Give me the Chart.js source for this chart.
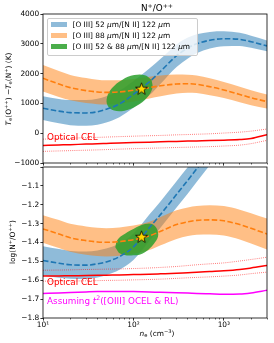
<!DOCTYPE html>
<html>
<head>
<meta charset="utf-8">
<title>N+/O++</title>
<script src="https://cdn.jsdelivr.net/npm/chart.js@4.4.1/dist/chart.umd.min.js"></script>
<style>
body { margin: 0; background: #fff; }
#fig { position: relative; width: 274px; height: 343px; overflow: hidden; font-family: "DejaVu Sans", sans-serif; color: #000; }
#fig canvas { position: absolute; left: 0; }
.txt { position: absolute; white-space: nowrap; line-height: 1; }
.txt sup, #legend sup { font-size: 70%; vertical-align: baseline; position: relative; top: -0.5em; }
.txt sub { font-size: 70%; vertical-align: baseline; position: relative; top: 0.25em; }
.mid { transform: translate(-50%, -50%); }
.rot { transform: translate(-50%, -50%) rotate(-90deg); }
#legend { position: absolute; left: 46.5px; top: 17.5px; width: 149px; height: 36px; border: 0.8px solid #ccc; border-radius: 2px; background: rgba(255,255,255,0.8); font-size: 7.4px; }
#legend .patch { position: absolute; left: 3px; width: 16.5px; height: 5px; }
#legend .name { position: absolute; left: 25px; white-space: nowrap; line-height: 1; }
</style>
</head>
<body>
<div id="fig">
  <canvas id="top" width="274" height="170" style="top:0px"></canvas>
  <canvas id="bot" width="274" height="183" style="top:160px"></canvas>

  <div class="txt mid" style="left:157px; top:8px; font-size:8.8px">N<sup>+</sup>/O<sup>++</sup></div>
  <div class="txt rot" style="left:9px; top:89px; font-size:7.4px"><i>T</i><sub>e</sub>(O<sup>++</sup>) &minus;<i>T</i><sub>e</sub>(N<sup>+</sup>) (K)</div>
  <div class="txt rot" style="left:12.5px; top:242px; font-size:7.4px">log(N<sup>+</sup>/O<sup>++</sup>)</div>
  <div class="txt mid" style="left:157px; top:334px; font-size:7.4px"><i>n</i><sub>e</sub> (cm<sup>&minus;3</sup>)</div>

  <div id="legend">
    <div class="patch" style="top:3.3px; background:rgba(31,119,180,0.5)"></div>
    <div class="name" style="top:2.1px">[O III] 52 <i>&mu;</i>m/[N II] 122 <i>&mu;</i>m</div>
    <div class="patch" style="top:14.6px; background:rgba(255,127,14,0.5)"></div>
    <div class="name" style="top:13.4px">[O III] 88 <i>&mu;</i>m/[N II] 122 <i>&mu;</i>m</div>
    <div class="patch" style="top:25.9px; background:rgba(44,160,44,0.85)"></div>
    <div class="name" style="top:24.7px">[O III] 52 &amp; 88 <i>&mu;</i>m/[N II] 122 <i>&mu;</i>m</div>
  </div>
</div>

<script>
// electron density grid (cm^-3)
var nGrid = [10, 15, 20, 30, 40, 50, 70, 100, 150, 200, 300, 400, 500, 700, 1000, 1500, 2000, 3000];

// top panel: Te(O++) - Te(N+) in K
var dT52Up  = [1240, 1150, 1110, 1110, 1155, 1240, 1425, 1750, 2170, 2500, 2980, 3210, 3320, 3400, 3420, 3370, 3270, 3110];
var dT52Mid = [840, 740, 690, 680, 720, 800, 980, 1300, 1720, 2080, 2600, 2860, 3000, 3120, 3170, 3150, 3070, 2930];
var dT52Lo  = [440, 330, 270, 250, 285, 360, 535, 850, 1270, 1660, 2220, 2510, 2680, 2840, 2920, 2930, 2870, 2750];

var dT88Up  = [2290, 2085, 1955, 1850, 1795, 1775, 1780, 1820, 1895, 1940, 1970, 1965, 1935, 1845, 1720, 1560, 1440, 1295];
var dT88Mid = [1845, 1650, 1530, 1430, 1385, 1370, 1385, 1440, 1530, 1590, 1650, 1660, 1640, 1560, 1450, 1300, 1190, 1060];
var dT88Lo  = [1400, 1215, 1105, 1010, 975, 965, 990, 1060, 1165, 1240, 1330, 1355, 1345, 1275, 1180, 1040, 940, 825];

var dTOpt   = [-410, -395, -385, -365, -355, -345, -330, -315, -300, -290, -275, -265, -258, -248, -235, -215, -180, -50];
var dTOptUp = [-200, -180, -170, -150, -140, -130, -115, -100, -85, -75, -55, -45, -35, -20, 5, 35, 70, 140];
var dTOptLo = [-610, -595, -585, -570, -560, -550, -535, -520, -505, -495, -480, -470, -462, -450, -430, -400, -350, -240];

// combined 52 & 88 contour (top)
var greenTopN = [159, 162, 141, 109, 80, 61, 52, 51, 58, 75, 102, 134];
var greenTopV = [1789, 1512, 1192, 918, 757, 759, 918, 1194, 1514, 1789, 1950, 1948];

// bottom panel: log(N+/O++)
var ab52Up  = [-1.42, -1.435, -1.445, -1.448, -1.442, -1.432, -1.405, -1.353, -1.252, -1.181, -1.075, -1.0, -0.94, -0.85, -0.76];
var ab52Mid = [-1.495, -1.51, -1.518, -1.52, -1.513, -1.503, -1.475, -1.423, -1.322, -1.251, -1.145, -1.07, -1.01, -0.92, -0.83];
var ab52Lo  = [-1.575, -1.587, -1.592, -1.593, -1.585, -1.574, -1.545, -1.493, -1.392, -1.321, -1.215, -1.14, -1.08, -0.99, -0.9];

var ab88Up  = [-1.255, -1.281, -1.301, -1.315, -1.322, -1.324, -1.32, -1.31, -1.29, -1.265, -1.229, -1.214, -1.207, -1.203, -1.207, -1.226, -1.245, -1.273];
var ab88Mid = [-1.328, -1.355, -1.375, -1.39, -1.397, -1.399, -1.395, -1.385, -1.365, -1.34, -1.305, -1.29, -1.283, -1.28, -1.285, -1.305, -1.325, -1.355];
var ab88Lo  = [-1.401, -1.429, -1.449, -1.465, -1.472, -1.474, -1.47, -1.46, -1.44, -1.415, -1.381, -1.366, -1.359, -1.357, -1.363, -1.384, -1.405, -1.437];

var abOpt   = [-1.578, -1.577, -1.576, -1.575, -1.574, -1.573, -1.572, -1.57, -1.568, -1.566, -1.563, -1.56, -1.558, -1.554, -1.55, -1.543, -1.535, -1.522];
var abOptUp = [-1.547, -1.546, -1.545, -1.543, -1.542, -1.541, -1.54, -1.538, -1.535, -1.532, -1.527, -1.522, -1.518, -1.513, -1.508, -1.498, -1.49, -1.478];
var abOptLo = [-1.605, -1.604, -1.604, -1.603, -1.602, -1.601, -1.6, -1.598, -1.596, -1.594, -1.59, -1.587, -1.585, -1.582, -1.578, -1.572, -1.565, -1.557];
var abT2    = [-1.670, -1.667, -1.665, -1.662, -1.660, -1.659, -1.659, -1.660, -1.662, -1.664, -1.666, -1.668, -1.670, -1.672, -1.674, -1.673, -1.667, -1.653];

var greenBotN = [63, 72, 100, 134, 179, 187, 165, 134, 100, 75, 66];
var greenBotV = [-1.425, -1.46, -1.468, -1.451, -1.389, -1.346, -1.305, -1.302, -1.328, -1.363, -1.389];

// best solution (star)
var starN = [123];
var starTopV = [1477];
var starBotV = [-1.372];

var xMajorTicks = [10, 100, 1000];
var xTickLabels = ['10\u00b9', '10\u00b2', '10\u00b3'];

Chart.defaults.font.family = '"DejaVu Sans", sans-serif';
Chart.defaults.color = '#000';

function pts(xs, ys) {
	return ys.map(function (y, i) { return { x: xs[i], y: y }; });
}
function loop(xs, ys) {
	var p = pts(xs, ys);
	p.push(p[0]);
	return p;
}

function band(ys, color, order) {
	return { data: pts(nGrid, ys), fill: '+1', backgroundColor: color, borderWidth: 0,
		pointRadius: 0, order: order, cubicInterpolationMode: 'monotone' };
}
function edge(ys, order) {
	return { data: pts(nGrid, ys), fill: false, borderWidth: 0, pointRadius: 0,
		order: order, cubicInterpolationMode: 'monotone' };
}
function curve(ys, color, width, dash, order) {
	return { data: pts(nGrid, ys), fill: false, borderColor: color, borderWidth: width,
		borderDash: dash, pointRadius: 0, order: order, cubicInterpolationMode: 'monotone' };
}
function blob(xs, ys) {
	return { data: loop(xs, ys), fill: 'shape', backgroundColor: 'rgba(44,160,44,0.85)',
		borderWidth: 0, pointRadius: 0, tension: 0.4, order: 8 };
}

function starImage(r) {
	var c = document.createElement('canvas');
	var s = Math.ceil(r * 2 + 2);
	c.width = s; c.height = s;
	var g = c.getContext('2d');
	g.beginPath();
	for (var k = 0; k < 10; k++) {
		var rr = k % 2 ? r * 0.42 : r;
		var a = -Math.PI / 2 + k * Math.PI / 5;
		g.lineTo(s / 2 + rr * Math.cos(a), s / 2 + rr * Math.sin(a));
	}
	g.closePath();
	g.fillStyle = '#ffd700';
	g.fill();
	g.lineWidth = 0.8;
	g.strokeStyle = '#000';
	g.stroke();
	return c;
}
var starImg = starImage(6.3);

function star(ys) {
	return { data: pts(starN, ys), showLine: false, pointStyle: starImg, pointRadius: 6, order: 1 };
}

var framePlugin = {
	id: 'frame',
	afterDatasetsDraw: function (chart) {
		var a = chart.chartArea, c = chart.ctx;
		c.save();
		c.strokeStyle = '#000';
		c.lineWidth = 0.8;
		c.strokeRect(a.left, a.top, a.right - a.left, a.bottom - a.top);
		c.restore();
	}
};

// text drawn at data coordinates
function notes(items) {
	return {
		id: 'notes',
		afterDatasetsDraw: function (chart) {
			var ctx = chart.ctx, xs = chart.scales.x, ys = chart.scales.y;
			items.forEach(function (it) {
				var px = xs.getPixelForValue(it.x), py = ys.getPixelForValue(it.y);
				ctx.save();
				ctx.fillStyle = it.color;
				ctx.textBaseline = 'alphabetic';
				it.parts.forEach(function (p) {
					var size = p.sup ? it.size * 0.7 : it.size;
					ctx.font = (p.italic ? 'italic ' : '') + size + 'px "DejaVu Sans"';
					ctx.fillText(p.t, px, py - (p.sup ? it.size * 0.4 : 0));
					px += ctx.measureText(p.t).width;
				});
				ctx.restore();
			});
		}
	};
}

function isMajor(v) { return xMajorTicks.indexOf(v) >= 0; }

function xScale(withLabels) {
	return {
		type: 'logarithmic', min: 10, max: 3000,
		border: { display: false },
		grid: {
			drawOnChartArea: false, drawTicks: true, tickLength: 2.6,
			tickWidth: function (c) { return c.tick && isMajor(c.tick.value) ? 0.8 : 0.6; },
			tickBorderDash: function (c) { return c.tick && isMajor(c.tick.value) ? [] : [1.5, 10]; },
			tickColor: '#000'
		},
		ticks: {
			display: withLabels, autoSkip: false, maxRotation: 0, padding: 0,
			font: { size: 7.4 }, color: '#000',
			callback: function (v) {
				var i = xMajorTicks.indexOf(v);
				return i >= 0 ? xTickLabels[i] : '';
			}
		},
		afterFit: function (s) { s.height = withLabels ? 25 : 6.7; }
	};
}

function yScale(min, max, step, fmt) {
	return {
		min: min, max: max,
		border: { display: false },
		grid: { drawOnChartArea: false, drawTicks: true, tickLength: 2.6, tickWidth: 0.8, tickColor: '#000' },
		ticks: { stepSize: step, padding: 1.2, font: { size: 7.4 }, color: '#000', callback: fmt },
		afterFit: function (s) { s.width = 43; }
	};
}

function baseOptions(padTop, xs, ys) {
	return {
		responsive: false, animation: false, devicePixelRatio: 1, events: [],
		layout: { padding: { top: padTop, right: 3.5, left: 0, bottom: 0 } },
		plugins: { legend: { display: false }, tooltip: { enabled: false } },
		scales: { x: xs, y: ys }
	};
}

var topChart = new Chart(document.getElementById('top'), {
	type: 'line',
	data: { datasets: [
		band(dT52Up, 'rgba(31,119,180,0.5)', 10),
		edge(dT52Lo, 10),
		band(dT88Up, 'rgba(255,127,14,0.5)', 9),
		edge(dT88Lo, 9),
		blob(greenTopN, greenTopV),
		curve(dTOptUp, 'rgba(255,0,0,0.8)', 0.8, [0.8, 1.3], 7),
		curve(dTOptLo, 'rgba(255,0,0,0.8)', 0.8, [0.8, 1.3], 7),
		curve(dTOpt, '#ff0000', 1.5, [], 6),
		curve(dT52Mid, '#1f77b4', 1.6, [5.5, 2.4], 5),
		curve(dT88Mid, '#ff7f0e', 1.6, [5.5, 2.4], 4),
		star(starTopV)
	]},
	options: baseOptions(14, xScale(false), yScale(-1000, 4000, 1000, function (v) {
		return (v < 0 ? '\u2212' : '') + Math.abs(v);
	})),
	plugins: [framePlugin, notes([
		{ x: 11.1, y: -238, color: '#ff0000', size: 8.8, parts: [{ t: 'Optical CEL' }] }
	])]
});

var botChart = new Chart(document.getElementById('bot'), {
	type: 'line',
	data: { datasets: [
		band(ab52Up, 'rgba(31,119,180,0.5)', 10),
		edge(ab52Lo, 10),
		band(ab88Up, 'rgba(255,127,14,0.5)', 9),
		edge(ab88Lo, 9),
		blob(greenBotN, greenBotV),
		curve(abOptUp, 'rgba(255,0,0,0.8)', 0.8, [0.8, 1.3], 7),
		curve(abOptLo, 'rgba(255,0,0,0.8)', 0.8, [0.8, 1.3], 7),
		curve(abOpt, '#ff0000', 1.5, [], 6),
		curve(abT2, '#ff00ff', 1.5, [], 6),
		curve(ab52Mid, '#1f77b4', 1.6, [5.5, 2.4], 5),
		curve(ab88Mid, '#ff7f0e', 1.6, [5.5, 2.4], 4),
		star(starBotV)
	]},
	options: baseOptions(6, xScale(true), yScale(-1.8, -1.0, 0.1, function (v) {
		return v > -1.05 ? '' : '\u2212' + Math.abs(v).toFixed(1);
	})),
	plugins: [framePlugin, notes([
		{ x: 11.1, y: -1.624, color: '#ff0000', size: 8.8, parts: [{ t: 'Optical CEL' }] },
		{ x: 11.1, y: -1.724, color: '#ff00ff', size: 8.8, parts: [
			{ t: 'Assuming ' }, { t: 't', italic: true }, { t: '2', sup: true }, { t: '([OIII] OCEL & RL)' }
		] }
	])]
});
</script>
</body>
</html>
